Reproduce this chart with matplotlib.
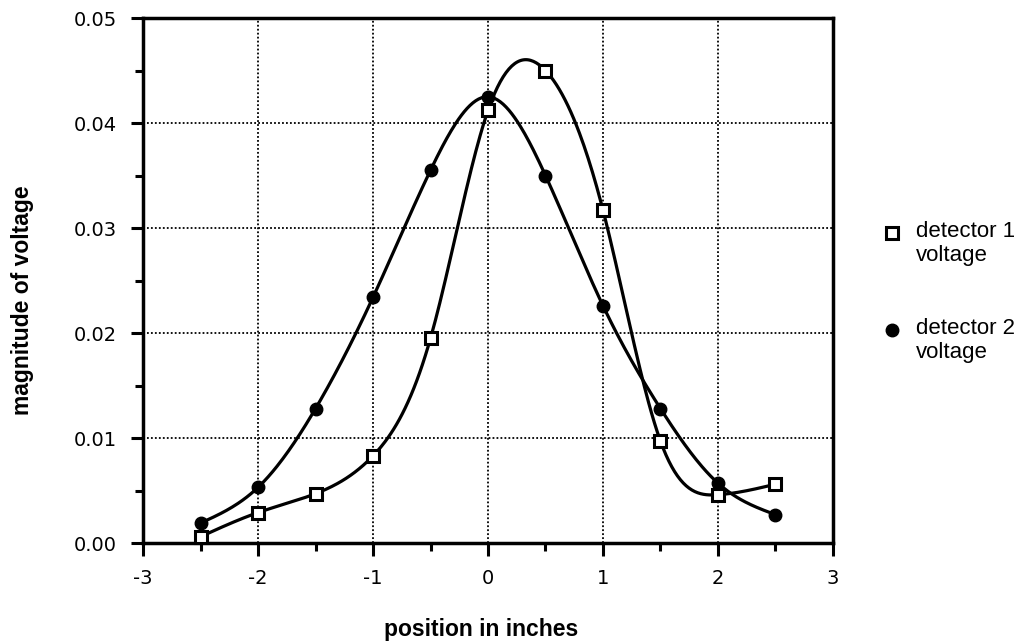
import matplotlib
matplotlib.use("Agg")
import matplotlib.pyplot as plt
from matplotlib.lines import Line2D
from matplotlib.ticker import MultipleLocator
import numpy as np

position = [-2.5, -2.0, -1.5, -1.0, -0.5, 0.0, 0.5, 1.0, 1.5, 2.0, 2.5]
detector1 = [0.0006, 0.0029, 0.0047, 0.0083, 0.0195, 0.0412,
             0.0450, 0.0317, 0.0097, 0.0046, 0.0056]
detector2 = [0.0019, 0.0053, 0.0128, 0.0234, 0.0355, 0.0425,
             0.0350, 0.0226, 0.0128, 0.0057, 0.0027]

labels = ["detector 1\nvoltage", "detector 2\nvoltage"]


def natural_spline(x, y, n=400):
    # natural cubic spline through the points, for the smooth curve
    x = np.asarray(x, float)
    y = np.asarray(y, float)
    k = len(x)
    h = np.diff(x)
    A = np.zeros((k, k))
    r = np.zeros(k)
    A[0, 0] = A[-1, -1] = 1.0
    for i in range(1, k - 1):
        A[i, i - 1] = h[i - 1]
        A[i, i] = 2 * (h[i - 1] + h[i])
        A[i, i + 1] = h[i]
        r[i] = 6 * ((y[i + 1] - y[i]) / h[i] - (y[i] - y[i - 1]) / h[i - 1])
    M = np.linalg.solve(A, r)
    xs = np.linspace(x[0], x[-1], n)
    j = np.clip(np.searchsorted(x, xs) - 1, 0, k - 2)
    t0 = x[j + 1] - xs
    t1 = xs - x[j]
    hj = h[j]
    ys = (M[j] * t0**3 / (6 * hj) + M[j + 1] * t1**3 / (6 * hj)
          + (y[j] / hj - M[j] * hj / 6) * t0
          + (y[j + 1] / hj - M[j + 1] * hj / 6) * t1)
    return xs, ys


plt.rcParams['font.family'] = ['Liberation Sans', 'DejaVu Sans']

fig = plt.figure(figsize=(10.29, 6.43), dpi=100)
ax = fig.add_axes([0.139, 0.1555, 0.6705, 0.8165])

for yv in (detector1, detector2):
    xs, ys = natural_spline(position, yv)
    ax.plot(xs, ys, color='black', lw=2.3, zorder=3)

ax.plot(position, detector1, 's', ms=8, mfc='white', mec='black',
        mew=2.2, zorder=4, clip_on=False)
ax.plot(position, detector2, 'o', ms=9, color='black', zorder=4,
        clip_on=False)

ax.set_xlim(-3, 3)
ax.set_ylim(0, 0.05)
ax.xaxis.set_major_locator(MultipleLocator(1))
ax.xaxis.set_minor_locator(MultipleLocator(0.5))
ax.yaxis.set_major_locator(MultipleLocator(0.01))
ax.yaxis.set_minor_locator(MultipleLocator(0.005))
ax.yaxis.set_major_formatter(plt.FormatStrFormatter('%.2f'))
ax.xaxis.set_major_formatter(plt.FuncFormatter(lambda v, p: f"{v:.0f}"))

ax.grid(True, which='major', color='black', linestyle=(0, (1, 1.2)), lw=1.3)
ax.tick_params(which='major', direction='out', length=9, width=2.2,
               labelsize=14, pad=10, top=False, right=False)
ax.tick_params(which='minor', direction='out', length=6, width=2.2,
               top=False, right=False)
for lab in ax.get_xticklabels() + ax.get_yticklabels():
    lab.set_family('DejaVu Sans')
for s in ax.spines.values():
    s.set_linewidth(2.5)

ax.set_xlabel('position in inches', fontsize=16.5, fontweight='bold')
ax.set_ylabel('magnitude of voltage', fontsize=16.5, fontweight='bold')
ax.xaxis.label.set_va('center')
ax.yaxis.label.set_va('center')
ax.xaxis.set_label_coords(0.49, -0.164)
ax.yaxis.set_label_coords(-0.175, 0.463)

# legend drawn beside the axes
legend_y = [0.6376, 0.4868]
markers = [dict(marker='s', ms=8, mfc='white', mec='black', mew=2.2),
           dict(marker='o', ms=9, color='black')]
for yy, lab, mk in zip(legend_y, labels, markers):
    fig.add_artist(Line2D([0.8669], [yy], linestyle='none',
                          transform=fig.transFigure, **mk))
    fig.text(0.890, yy + 0.0187, lab, fontsize=16, va='top', ha='left',
             linespacing=1.2)

fig.savefig("out.png", dpi=100)
